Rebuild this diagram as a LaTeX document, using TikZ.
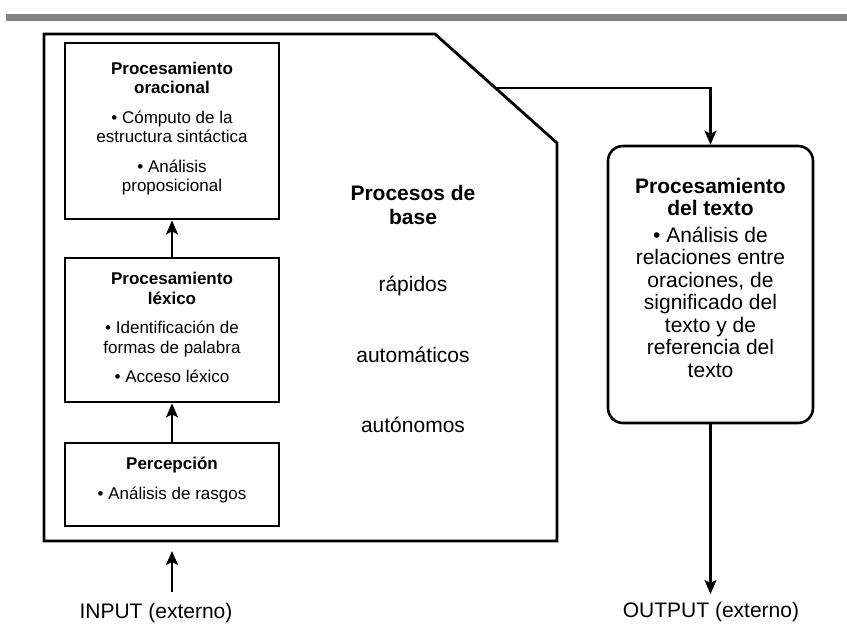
\documentclass[tikz,border=0pt]{standalone}
\usepackage{fontspec}
\setmainfont{Liberation Sans}
\usetikzlibrary{arrows.meta,calc}
\definecolor{bargray}{HTML}{818285}
\begin{document}
\begin{tikzpicture}[x=1pt,y=-1pt,
  box/.style={draw, line width=2.8pt, inner sep=0pt},
  small/.style={font=\fontsize{17}{19.5}\selectfont, align=center, inner sep=0pt},
  big/.style={font=\fontsize{21}{22.5}\selectfont, align=center, inner sep=0pt},
  arr/.style={line width=2.2pt, -{Stealth[length=14pt,width=12pt,inset=3pt]}},
]
\useasboundingbox (0,0) rectangle (847,631);
% top bar
\fill[bargray] (6,14) rectangle (847,21);
% outer polygon
\coordinate (p1) at (44,34);
\coordinate (p2) at (435,34);
\coordinate (p3) at (557,143);
\coordinate (p4) at (557,541);
\coordinate (p5) at (44,541);
\draw[line width=2.8pt, line join=miter] (p1) -- (p2) -- (p3) -- (p4) -- (p5) -- cycle;
% inner boxes
\node[box, minimum width=214pt, minimum height=176pt] (b1) at (172,131) {};
\node[box, minimum width=214pt, minimum height=144pt] (b2) at (172,330) {};
\node[box, minimum width=214pt, minimum height=83pt] (b3) at (172,484.5) {};
\node[small] (t1) at (172,128.5) {\textbf{Procesamiento}\\\textbf{oracional}\\[10pt]• Cómputo de la\\estructura sintáctica\\[10pt]• Análisis\\proposicional};
\node[small] (t2) at (172,327.5) {\textbf{Procesamiento}\\\textbf{léxico}\\[10pt]• Identificación de\\formas de palabra\\[10pt]• Acceso léxico};
\node[small] (t3) at (172,480) {\textbf{Percepción}\\[10pt]• Análisis de rasgos};
% middle text
\node[big, font=\fontsize{21}{24}\selectfont\bfseries] (pb) at (413,205) {Procesos de\\base};
\node[big] (m1) at (413,286) {rápidos};
\node[big] (m2) at (413,355) {automáticos};
\node[big] (m3) at (413,425) {autónomos};
% right box
\node[draw, line width=2.6pt, rounded corners=15pt, minimum width=205pt, minimum height=277pt, inner sep=0pt] (rb) at (710.5,284.5) {};
\node[big] (rt) at (710.5,277.5) {\textbf{Procesamiento}\\\textbf{del texto}\\[4pt]• Análisis de\\relaciones entre\\oraciones, de\\significado del\\texto y de\\referencia del\\texto};
% arrows
\draw[arr] (b2.north) -- (b1.south);
\draw[arr] (b3.north) -- (b2.south);
\coordinate (d) at ($(p2)!0.495!(p3)$);
\draw[arr] (d) -| (rb.north);
% input / output
\node[big] (in) at (156,613) {INPUT (externo)};
\node[big] (out) at (711,612) {OUTPUT (externo)};
\coordinate (intip) at (172,551);
\coordinate (inbase) at (172,592);
\draw[arr] (inbase) -- (intip);
\coordinate (outtip) at (710.5,594);
\draw[arr] (rb.south) -- (outtip);
\end{tikzpicture}
\end{document}
